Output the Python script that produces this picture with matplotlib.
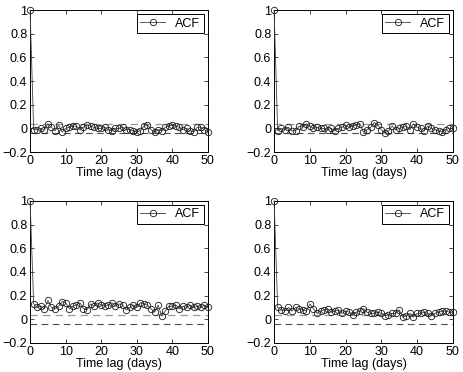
import numpy as np
import matplotlib.pyplot as plt

plt.rcParams['font.family'] = ['Liberation Sans', 'DejaVu Sans']

lags = np.arange(51)

acf_tl = [1, -0.01, -0.01, 0.0, -0.01, 0.04, 0.01, -0.02, 0.03, -0.03, 0.0,
          0.01, 0.02, 0.02, -0.01, 0.01, 0.03, 0.02, 0.01, 0.0, 0.0,
          0.01, -0.01, -0.02, 0.0, 0.0, 0.01, -0.01, -0.01, -0.02, -0.03,
          -0.02, 0.02, 0.03, -0.01, -0.03, -0.01, -0.02, 0.01, 0.02, 0.03,
          0.02, 0.01, -0.01, 0.0, -0.02, -0.03, 0.01, 0.01, -0.01, -0.03]
acf_tr = [1, -0.02, 0.0, -0.01, 0.01, -0.02, -0.02, 0.02, 0.01, 0.04, 0.02,
          0.0, 0.01, 0.0, 0.0, -0.01, 0.0, -0.02, 0.0, 0.01, 0.03,
          0.01, 0.02, 0.03, 0.04, -0.03, -0.01, 0.01, 0.05, 0.03, -0.01,
          -0.04, -0.02, 0.02, -0.01, 0.0, 0.01, 0.02, -0.01, 0.04, 0.01,
          0.0, -0.02, 0.02, 0.0, -0.01, -0.02, -0.03, -0.01, 0.0, 0.0]
acf_bl = [1, 0.13, 0.1, 0.11, 0.09, 0.16, 0.1, 0.09, 0.11, 0.15, 0.14,
          0.09, 0.11, 0.12, 0.14, 0.09, 0.08, 0.13, 0.11, 0.14, 0.12,
          0.11, 0.12, 0.14, 0.11, 0.13, 0.12, 0.08, 0.1, 0.12, 0.1,
          0.14, 0.13, 0.12, 0.09, 0.06, 0.12, 0.03, 0.07, 0.11, 0.11,
          0.12, 0.09, 0.11, 0.1, 0.12, 0.1, 0.11, 0.1, 0.12, 0.1]
acf_br = [1, 0.1, 0.08, 0.07, 0.1, 0.07, 0.1, 0.09, 0.08, 0.07, 0.13,
          0.09, 0.05, 0.07, 0.08, 0.09, 0.06, 0.07, 0.08, 0.05, 0.07,
          0.06, 0.04, 0.06, 0.07, 0.09, 0.06, 0.05, 0.05, 0.06, 0.05,
          0.03, 0.04, 0.05, 0.05, 0.08, 0.02, 0.03, 0.05, 0.02, 0.05,
          0.05, 0.06, 0.05, 0.03, 0.05, 0.06, 0.07, 0.07, 0.06, 0.06]
conf = 0.04

yticks = [-0.2, 0, 0.2, 0.4, 0.6, 0.8, 1]
ytick_labels = ['\u22120.2', '0', '0.2', '0.4', '0.6', '0.8', '1']
xticks = [0, 10, 20, 30, 40, 50]

fig = plt.figure(figsize=(4.63, 3.72), dpi=100)
boxes = [[0.065, 0.591, 0.384, 0.382], [0.592, 0.591, 0.386, 0.382],
         [0.065, 0.078, 0.384, 0.382], [0.592, 0.078, 0.386, 0.382]]

for box, acf in zip(boxes, [acf_tl, acf_tr, acf_bl, acf_br]):
    ax = fig.add_axes(box)
    ax.plot(lags, acf, '-o', color='0.25', lw=0.6, ms=4.6,
            mfc='none', mec='0.1', mew=0.6, label='ACF', clip_on=False,
            zorder=3)
    ax.axhline(conf, color='0.6', ls=(0, (6, 4)), lw=0.9)
    ax.axhline(-conf, color='0.3', ls=(0, (6, 4)), lw=0.8)
    ax.set_xlim(0, 50)
    ax.set_ylim(-0.2, 1)
    ax.set_xticks(xticks)
    ax.set_yticks(yticks)
    ax.set_yticklabels(ytick_labels)
    ax.tick_params(direction='in', top=True, right=True, length=3,
                   width=0.5, labelsize=9, pad=2)
    for s in ax.spines.values():
        s.set_linewidth(0.7)
    ax.set_xlabel('Time lag (days)', fontsize=9, labelpad=0)
    leg = ax.legend(loc='upper right', fancybox=False, edgecolor='k',
                    fontsize=9, handlelength=2.0, borderaxespad=0.3,
                    borderpad=0.3, framealpha=1)
    leg.get_frame().set_linewidth(0.7)

plt.savefig('out.png', dpi=100)
